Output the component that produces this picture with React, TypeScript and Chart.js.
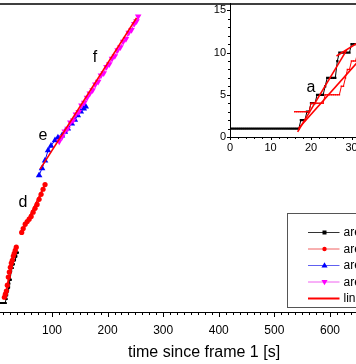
import React, { useEffect, useRef } from 'react';
import { Chart, registerables } from 'chart.js';

Chart.register(...registerables);

const FONT = "'Liberation Sans', Arial, Helvetica, sans-serif";

// ---------- data (time since frame 1 [s], count) ----------
// series a (black squares), also shown in the inset
const aTime = [0, 0.5, 1, 1.5, 2, 2.5, 3, 3.5, 4, 4.5, 5, 5.5, 6, 6.5, 7, 7.5, 8, 8.5, 9, 9.5, 10, 10.5, 11, 11.5, 12, 12.5, 13, 13.5, 14, 14.5, 15, 15.5, 16, 16.5, 17,
  17.5, 18, 18.5, 19, 19.5, 20, 20.5, 21, 21.5, 22, 22.5, 23, 23.5, 24, 24.5, 25, 25.5, 26, 26.5, 27, 27.5, 28, 28.5, 29, 29.5,
  30, 30.5, 31, 31.5, 32, 32.5, 33, 33.5, 34, 34.5, 35, 35.5, 36, 36.5, 37, 37.5, 38, 38.5, 39];
const aCount = [1, 1, 1, 1, 1, 1, 1, 1, 1, 1, 1, 1, 1, 1, 1, 1, 1, 1, 1, 1, 1, 1, 1, 1, 1, 1, 1, 1, 1, 1, 1, 1, 1, 1, 1,
  2, 2, 2, 3, 3, 4, 4, 4, 5, 5, 5, 5, 6, 7, 7, 7, 7, 7, 9, 10, 10, 10, 10, 10, 10,
  11, 11, 11, 11, 12, 12, 12, 12, 13, 13, 13, 13, 13, 14, 14, 14, 14, 14, 14];

// red trace in the inset
const bInsetTime = [16, 16.5, 17, 17.5, 18, 18.5, 19, 19.5, 20, 20.5, 21, 21.5, 22, 22.5, 23, 23.5, 24, 24.5, 25, 25.5, 26, 26.5, 27, 27.5, 28, 28.5, 29, 29.5, 30, 30.5, 31, 31.5, 32];
const bInsetCount = [3, 3, 3, 3, 3, 3, 3, 3, 4, 4, 4, 4, 4, 4, 4, 5, 5, 5, 5, 5, 5, 5, 5, 6, 6, 7, 8, 8, 9, 9, 9, 10, 10];

// red circles, main chart (lower part and segment d)
const bLowTime = [14.3, 16.1, 17.9, 19.6, 21.4, 23.2, 25.0, 26.8, 28.6, 30.4, 32.1, 33.9, 35.7];
const bLowCount = [2.5, 3.3, 4.1, 5.6, 7.7, 9.0, 10.2, 11.3, 12.0, 13.1, 13.8, 14.6, 15.4];
const dTime = [45.5, 48.2, 51.8, 55.4, 58.9, 62.5, 66.1, 69.6, 73.2, 76.8, 80.4, 83.9, 87.5];
const dCount = [19.2, 20.2, 21.3, 22.0, 22.6, 23.3, 24.4, 25.4, 26.4, 27.7, 29.0, 30.3, 31.5];

// blue triangles (segment e)
const eTime = [76.8, 82.1, 87.5, 92.9, 98.2, 105.4, 110.7, 117.9, 123.2, 128.6, 135.7, 141.1, 146.4, 151.8, 157.1, 160.7];
const eCount = [33.9, 35.7, 37.7, 40.3, 41.5, 42.9, 43.6, 44.1, 45.1, 45.9, 47.2, 48.2, 49.3, 50.3, 51.1, 51.6];

// magenta down-triangles (segment f)
const fTime = [113, 118, 123, 128, 133, 138, 143, 148, 153, 158, 163, 168, 173, 178, 183, 188, 193, 198, 203, 208, 213, 218, 223, 228, 233, 238, 243, 248, 252, 255];
const fCount = [42.6, 43.8, 45.2, 45.9, 47.5, 48.0, 49.6, 50.2, 51.9, 52.6, 53.9, 55.0, 55.8, 57.3, 58.0, 59.6, 60.2, 61.8, 62.5, 63.9, 64.6, 66.1, 66.9, 68.3, 69.0, 70.6, 71.3, 72.9, 73.6, 74.8];

// linear fits (end points)
const fitEFTime = [78.6, 252];
const fitEFCount = [35.5, 74.4];
const fitDTime = [45.5, 87.5];
const fitDCount = [19.0, 31.6];
const fitLowTime = [14.5, 36];
const fitLowCount = [2.0, 15.6];
const fitA1Time = [16.7, 28.8];
const fitA1Count = [0.6, 10.3];
const fitA2Time = [26.3, 33];
const fitA2Count = [9.6, 11.6];
const fitBTime = [16.9, 36];
const fitBCount = [1.0, 11.3];

// ticks
const mainXMajor = [0, 100, 200, 300, 400, 500, 600, 700];
const mainXMinorStep = 12.5;
const insetXMajor = [0, 10, 20, 30, 40];
const insetXMinorStep = 2;
const insetYMajor = [0, 5, 10, 15];
const insetYMinorStep = 1;

// segment letters
const mainLetters = ['d', 'e', 'f'];
const mainLetterTime = [47.8, 83.8, 177.3];
const mainLetterCount = [26.9, 44.1, 64.1];
const insetLetters = ['a'];
const insetLetterTime = [20];
const insetLetterCount = [5.8];

const legendLabels = ['area a', 'area d', 'area e', 'area f', 'linear fit'];

// ---------- helpers ----------
const pts = (xs: number[], ys: number[]) => xs.map((x, i) => ({ x, y: ys[i] }));

function stepValues(min: number, max: number, step: number) {
  const out: number[] = [];
  for (let i = 0; min + i * step <= max + 1e-9; i++) out.push(+(min + i * step).toFixed(6));
  return out;
}

function isMajor(majors: number[], v: number) {
  return majors.some((m) => Math.abs(m - v) < 1e-6);
}

function makeTickMarks(specs: { id: string; majors: number[]; majorLen: number; minorLen: number }[]) {
  return {
    id: 'tickMarks',
    afterDraw(chart: any) {
      const ctx = chart.ctx;
      const a = chart.chartArea;
      ctx.save();
      ctx.strokeStyle = '#000';
      ctx.lineWidth = 1;
      for (const sp of specs) {
        const s = chart.scales[sp.id];
        for (const t of s.ticks) {
          const len = isMajor(sp.majors, t.value) ? sp.majorLen : sp.minorLen;
          const p = Math.round(s.getPixelForValue(t.value)) + 0.5;
          ctx.beginPath();
          if (s.isHorizontal()) {
            ctx.moveTo(p, a.bottom);
            ctx.lineTo(p, a.bottom + len);
          } else {
            ctx.moveTo(a.left, p);
            ctx.lineTo(a.left - len, p);
          }
          ctx.stroke();
        }
      }
      ctx.restore();
    },
  };
}

function makeLetters(texts: string[], xs: number[], ys: number[]) {
  return {
    id: 'letters',
    afterDatasetsDraw(chart: any) {
      const ctx = chart.ctx;
      ctx.save();
      ctx.fillStyle = '#000';
      ctx.font = `16px ${FONT}`;
      ctx.textAlign = 'center';
      ctx.textBaseline = 'middle';
      texts.forEach((t, i) => {
        ctx.fillText(t, chart.scales.x.getPixelForValue(xs[i]), chart.scales.y.getPixelForValue(ys[i]));
      });
      ctx.restore();
    },
  };
}

function drawMarker(ctx: CanvasRenderingContext2D, kind: string, x: number, y: number, r: number) {
  ctx.beginPath();
  if (kind === 'rect') {
    ctx.rect(x - r, y - r, 2 * r, 2 * r);
  } else if (kind === 'circle') {
    ctx.arc(x, y, r, 0, Math.PI * 2);
  } else if (kind === 'triangle') {
    ctx.moveTo(x, y - r);
    ctx.lineTo(x + r * 0.95, y + r * 0.6);
    ctx.lineTo(x - r * 0.95, y + r * 0.6);
    ctx.closePath();
  } else if (kind === 'down') {
    ctx.moveTo(x, y + r);
    ctx.lineTo(x + r * 0.95, y - r * 0.6);
    ctx.lineTo(x - r * 0.95, y - r * 0.6);
    ctx.closePath();
  }
  ctx.fill();
}

const legendStyles = [
  { color: '#000000', line: '#333333', marker: 'rect', r: 2, w: 1 },
  { color: '#ff0000', line: '#f06060', marker: 'circle', r: 2.2, w: 1 },
  { color: '#0000ff', line: '#6060f0', marker: 'triangle', r: 3.2, w: 1 },
  { color: '#ff00ff', line: '#f060f0', marker: 'down', r: 3.2, w: 1 },
  { color: '#ff0000', line: '#ff0000', marker: '', r: 0, w: 2 },
];

const boxLegend = {
  id: 'boxLegend',
  afterDraw(chart: any) {
    const ctx = chart.ctx;
    const a = chart.chartArea;
    const left = Math.round(a.left + 291) + 0.5;
    const top = Math.round(a.top + 208.7) + 0.5;
    ctx.save();
    ctx.fillStyle = '#ffffff';
    ctx.fillRect(left, top, 150, 94);
    ctx.strokeStyle = '#555555';
    ctx.lineWidth = 1;
    ctx.strokeRect(left, top, 150, 94);
    ctx.font = `12px ${FONT}`;
    ctx.textAlign = 'left';
    ctx.textBaseline = 'middle';
    legendLabels.forEach((label, i) => {
      const st = legendStyles[i];
      const y = top + 19 + i * 16.5;
      ctx.strokeStyle = st.line;
      ctx.lineWidth = st.w;
      ctx.beginPath();
      ctx.moveTo(left + 20.5, y);
      ctx.lineTo(left + 52, y);
      ctx.stroke();
      if (st.marker) {
        ctx.fillStyle = st.color;
        drawMarker(ctx, st.marker, left + 37, y, st.r);
      }
      ctx.fillStyle = '#000';
      ctx.fillText(label, left + 56, y + 0.5);
    });
    ctx.restore();
  },
};

const mainFrame = {
  id: 'mainFrame',
  afterDraw(chart: any) {
    const { ctx, chartArea: a } = chart;
    ctx.save();
    ctx.strokeStyle = '#000';
    ctx.lineWidth = 1.5;
    ctx.beginPath();
    ctx.moveTo(a.left, a.top);
    ctx.lineTo(a.right, a.top);
    ctx.moveTo(a.left, a.top);
    ctx.lineTo(a.left, a.bottom);
    ctx.moveTo(a.right, a.top);
    ctx.lineTo(a.right, a.bottom);
    ctx.stroke();
    ctx.restore();
  },
};

function series(label: string, xs: number[], ys: number[], color: string, style: string, r: number, order: number, rot = 0) {
  return {
    label,
    data: pts(xs, ys),
    showLine: true,
    borderColor: color,
    borderWidth: 1,
    backgroundColor: color,
    pointBackgroundColor: color,
    pointBorderColor: color,
    pointBorderWidth: 0,
    pointStyle: style,
    pointRadius: r,
    pointRotation: rot,
    order,
  };
}

function fit(label: string, xs: number[], ys: number[]) {
  return {
    label,
    data: pts(xs, ys),
    showLine: true,
    borderColor: '#ff0000',
    borderWidth: 1.6,
    pointRadius: 0,
    order: 0,
  };
}

export default function App() {
  const mainRef = useRef<HTMLCanvasElement>(null);
  const insetRef = useRef<HTMLCanvasElement>(null);

  useEffect(() => {
    const main = new Chart(mainRef.current as HTMLCanvasElement, {
      type: 'scatter',
      data: {
        datasets: [
          series('area a', aTime, aCount, '#000000', 'rect', 1.3, 5),
          series('area b', bLowTime, bLowCount, '#ff0000', 'circle', 2.6, 4),
          series('area d', dTime, dCount, '#ff0000', 'circle', 2.6, 3),
          series('area e', eTime, eCount, '#0000ff', 'triangle', 3.8, 2),
          series('area f', fTime, fCount, '#ff00ff', 'triangle', 3.8, 1, 180),
          fit('linear fit', fitEFTime, fitEFCount),
          fit('linear fit d', fitDTime, fitDCount),
          fit('linear fit b', fitLowTime, fitLowCount),
        ] as any,
      },
      options: {
        responsive: false,
        animation: false,
        events: [],
        layout: { padding: { left: 20.4, right: 20.3, top: 3, bottom: 0 } },
        plugins: { legend: { display: false }, tooltip: { enabled: false } },
        scales: {
          x: {
            type: 'linear',
            min: 0,
            max: 747,
            afterBuildTicks: (s: any) => {
              s.ticks = stepValues(0, 747, mainXMinorStep).map((value) => ({ value }));
            },
            afterFit: (s: any) => {
              s.height = 52;
            },
            ticks: {
              autoSkip: false,
              maxRotation: 0,
              padding: 5,
              color: '#000',
              font: { family: FONT, size: 12 },
              callback: (v: any) => (isMajor(mainXMajor, Number(v)) ? String(v) : ''),
            },
            grid: { display: true, drawOnChartArea: false, drawTicks: true, tickLength: 6, color: 'rgba(0,0,0,0)', tickColor: 'rgba(0,0,0,0)' },
            border: { display: true, color: '#000', width: 1 },
            title: {
              display: true,
              text: 'time since frame 1 [s]',
              color: '#000',
              font: { family: FONT, size: 16 },
              padding: { top: 0, bottom: 2 },
            },
          } as any,
          y: { type: 'linear', display: false, min: -1.3, max: 78 },
        },
      },
      plugins: [
        mainFrame,
        makeTickMarks([{ id: 'x', majors: mainXMajor, majorLen: 5, minorLen: 3 }]),
        makeLetters(mainLetters, mainLetterTime, mainLetterCount),
        boxLegend,
      ] as any,
    });

    const inset = new Chart(insetRef.current as HTMLCanvasElement, {
      type: 'scatter',
      data: {
        datasets: [
          series('area a', aTime, aCount, '#000000', 'rect', 1.6, 3),
          series('area b', bInsetTime, bInsetCount, '#ff0000', 'rect', 1.1, 2),
          fit('fit a', fitA1Time, fitA1Count),
          fit('fit a2', fitA2Time, fitA2Count),
          fit('fit b', fitBTime, fitBCount),
        ] as any,
      },
      options: {
        responsive: false,
        animation: false,
        events: [],
        layout: { padding: { left: 0, right: 10, top: 7.2, bottom: 0 } },
        plugins: { legend: { display: false }, tooltip: { enabled: false } },
        scales: {
          x: {
            type: 'linear',
            min: 0,
            max: 40,
            afterBuildTicks: (s: any) => {
              s.ticks = stepValues(0, 40, insetXMinorStep).map((value) => ({ value }));
            },
            afterFit: (s: any) => {
              s.height = 20;
            },
            ticks: {
              autoSkip: false,
              maxRotation: 0,
              padding: 1,
              color: '#000',
              font: { family: FONT, size: 11 },
              callback: (v: any) => (isMajor(insetXMajor, Number(v)) ? String(v) : ''),
            },
            grid: { display: true, drawOnChartArea: false, drawTicks: true, tickLength: 3, color: 'rgba(0,0,0,0)', tickColor: 'rgba(0,0,0,0)' },
            border: { display: true, color: '#000', width: 1 },
          } as any,
          y: {
            type: 'linear',
            min: 0,
            max: 15.8,
            afterBuildTicks: (s: any) => {
              s.ticks = stepValues(0, 15, insetYMinorStep).map((value) => ({ value }));
            },
            afterFit: (s: any) => {
              s.width = 30;
            },
            ticks: {
              autoSkip: false,
              padding: 1,
              color: '#000',
              font: { family: FONT, size: 11 },
              callback: (v: any) => (isMajor(insetYMajor, Number(v)) ? String(v) : ''),
            },
            grid: { display: true, drawOnChartArea: false, drawTicks: true, tickLength: 3, color: 'rgba(0,0,0,0)', tickColor: 'rgba(0,0,0,0)' },
            border: { display: true, color: '#000', width: 1 },
          } as any,
        },
      },
      plugins: [
        makeTickMarks([
          { id: 'x', majors: insetXMajor, majorLen: 3, minorLen: 2 },
          { id: 'y', majors: insetYMajor, majorLen: 3, minorLen: 2 },
        ]),
        makeLetters(insetLetters, insetLetterTime, insetLetterCount),
      ] as any,
    });

    return () => {
      main.destroy();
      inset.destroy();
    };
  }, []);

  return (
    <div style={{ position: 'fixed', left: 0, top: 0, width: 356, height: 364, overflow: 'hidden', background: '#ffffff' }}>
      <canvas ref={mainRef} width={456} height={364} style={{ position: 'absolute', left: -24, top: 0, width: 456, height: 364 }} />
      <canvas ref={insetRef} width={202} height={161} style={{ position: 'absolute', left: 200, top: -4, width: 202, height: 161 }} />
    </div>
  );
}
